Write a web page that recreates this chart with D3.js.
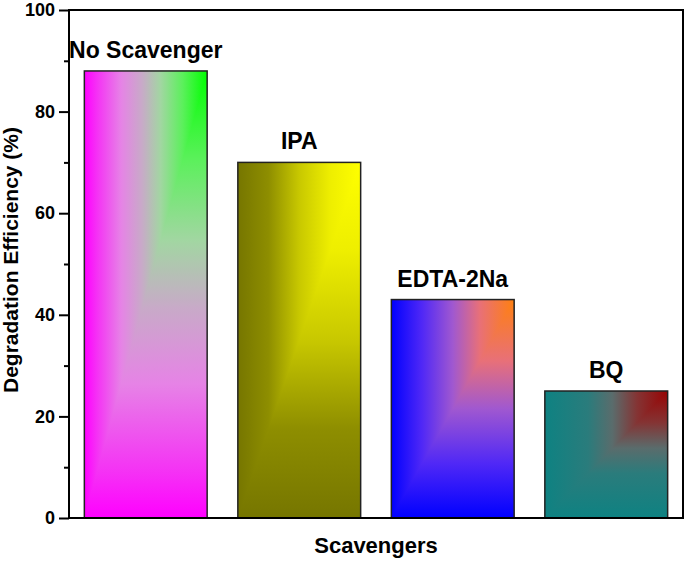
<!DOCTYPE html>
<html><head><meta charset="utf-8">
<script src="https://cdn.jsdelivr.net/npm/d3@7"></script>
<style>body{margin:0;background:#fff}svg{display:block}text{font-family:"Liberation Sans",Arial,sans-serif;font-weight:bold;fill:#000}</style>
</head><body>
<svg id="c" width="685" height="561"></svg>
<script>
const categories = ["No Scavenger", "IPA", "EDTA-2Na", "BQ"];
const values = [88, 70, 43, 25];
const yTicks = [0, 20, 40, 60, 80, 100];
const yMinorTicks = [10, 30, 50, 70, 90];
const gradientStops = [
  [["0", "#ff00ff"], ["0.1", "#f530f5"], ["0.3", "#e683e6"], ["0.47", "#c8aac8"], ["0.62", "#a2d6a2"], ["0.8", "#5cf05c"], ["1", "#00ff00"]],
  [["0", "#767600"], ["0.25", "#8e8e00"], ["0.5", "#c8c800"], ["0.75", "#eeee00"], ["1", "#ffff00"]],
  [["0", "#0000ff"], ["0.25", "#5028f6"], ["0.5", "#a058d0"], ["0.72", "#e87078"], ["1", "#ff8010"]],
  [["0", "#0e8282"], ["0.35", "#2a7c7c"], ["0.55", "#5a6c6c"], ["0.75", "#843434"], ["1", "#980404"]]
];

const svg = d3.select("#c");
const L = 69, R = 683, T = 10, B = 518;
const x = d3.scaleBand().domain(categories).range([L, R]).paddingInner(0.2).paddingOuter(0.1);
const y = d3.scaleLinear().domain([0, 100]).range([B, T]);

const defs = svg.append("defs");
categories.forEach((c, i) => {
  const gh = defs.append("linearGradient").attr("id", "gh" + i).attr("x1", 0).attr("y1", 0).attr("x2", 1).attr("y2", 0);
  const gv = defs.append("linearGradient").attr("id", "gv" + i).attr("x1", 0).attr("y1", 1).attr("x2", 0).attr("y2", 0);
  gradientStops[i].forEach(s => {
    gh.append("stop").attr("offset", s[0]).attr("stop-color", s[1]);
    gv.append("stop").attr("offset", s[0]).attr("stop-color", s[1]);
  });
});

const bars = svg.append("g").selectAll("g").data(categories).join("g");
bars.each(function(c, i) {
  const g = d3.select(this);
  const x0 = x(c), x1 = x(c) + x.bandwidth(), y0 = y(0), y1 = y(values[i]);
  // whole bar: vertical gradient (lower-right part)
  g.append("rect").attr("x", x0).attr("y", y1).attr("width", x.bandwidth()).attr("height", y0 - y1)
    .attr("fill", `url(#gv${i})`);
  // upper-left triangle: horizontal gradient
  g.append("path").attr("d", `M${x0},${y0}L${x0},${y1}L${x1},${y1}Z`).attr("fill", `url(#gh${i})`);
  g.append("rect").attr("x", x0).attr("y", y1).attr("width", x.bandwidth()).attr("height", y0 - y1)
    .attr("fill", "none").attr("stroke", "#222").attr("stroke-width", 1.5);
  g.append("text").attr("x", x0 + x.bandwidth() / 2).attr("y", y1 - 13).attr("text-anchor", "middle")
    .attr("font-size", 23).text(c);
});

// frame
svg.append("rect").attr("x", L).attr("y", T).attr("width", R - L).attr("height", B - T)
  .attr("fill", "none").attr("stroke", "#000").attr("stroke-width", 2);

// y axis
const ax = svg.append("g").attr("transform", `translate(${L},0)`)
  .call(d3.axisLeft(y).tickValues(yTicks).tickSize(10).tickPadding(4).tickFormat(d3.format("d")));
ax.select(".domain").remove();
ax.selectAll("line").attr("stroke", "#000").attr("stroke-width", 2);
ax.selectAll("text").attr("font-size", 18).attr("font-family", "Liberation Sans, Arial, sans-serif").attr("font-weight", "bold");
const axm = svg.append("g").attr("transform", `translate(${L},0)`)
  .call(d3.axisLeft(y).tickValues(yMinorTicks).tickSize(5).tickFormat(""));
axm.select(".domain").remove();
axm.selectAll("line").attr("stroke", "#000").attr("stroke-width", 2);

svg.append("text").attr("transform", `translate(18,${(T + B) / 2 - 4}) rotate(-90)`).attr("text-anchor", "middle")
  .attr("font-size", 21).text("Degradation Efficiency (%)");
svg.append("text").attr("x", 376).attr("y", 553).attr("text-anchor", "middle")
  .attr("font-size", 22).text("Scavengers");
</script>
</body></html>
